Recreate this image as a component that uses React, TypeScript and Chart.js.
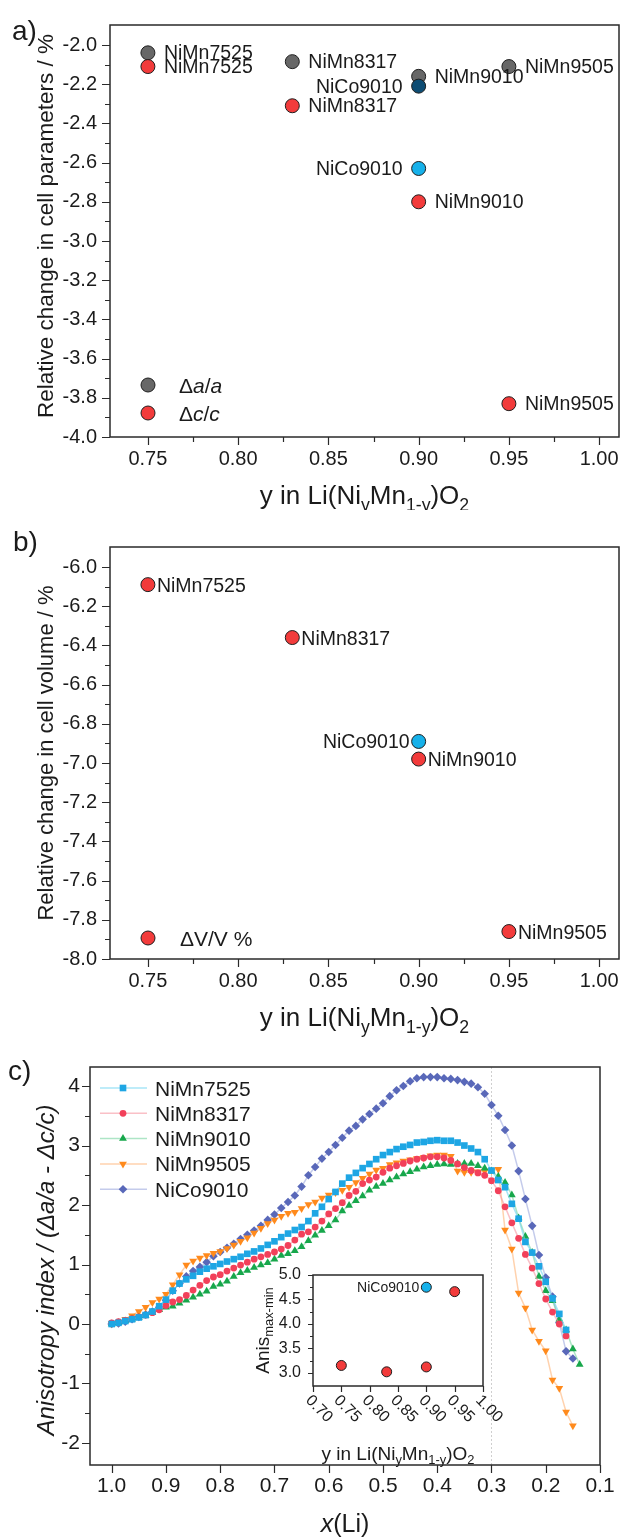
import React, { useEffect, useRef } from 'react';
import { Chart, registerables } from 'chart.js';

Chart.register(...registerables);

const FONT = "'Liberation Sans', Arial, Helvetica, sans-serif";
Chart.defaults.font.family = FONT;
const INK = '#1b1b1b';
const FRAME = '#2a2a2a';

// ---------------- panel a / b data ----------------
const COMPOSITION = [0.75, 0.83, 0.9, 0.95];
const NIMN_NAMES = ['NiMn7525', 'NiMn8317', 'NiMn9010', 'NiMn9505'];
const DELTA_A = [-2.04, -2.085, -2.16, -2.11];
const DELTA_C = [-2.11, -2.31, -2.8, -3.83];
const NICO_NAME = 'NiCo9010';
const NICO_COMPOSITION = 0.9;
const NICO_DELTA_A = -2.21;
const NICO_DELTA_C = -2.63;
const DELTA_V = [-6.09, -6.36, -6.98, -7.86];
const NICO_DELTA_V = -6.89;

// ---------------- inset data ----------------
const ANIS_RANGE = [3.15, 3.02, 3.12, 4.66];
const NICO_ANIS_RANGE = 4.75;

// ---------------- panel c data ----------------
const SERIES_NAMES = ['NiMn7525', 'NiMn8317', 'NiMn9010', 'NiMn9505', 'NiCo9010'];
const X_LI = [
  1.0, 0.9875, 0.975, 0.9625, 0.95, 0.9375, 0.925, 0.9125, 0.9, 0.8875,
  0.875, 0.8625, 0.85, 0.8375, 0.825, 0.8125, 0.8, 0.7875, 0.775, 0.7625,
  0.75, 0.7375, 0.725, 0.7125, 0.7, 0.6875, 0.675, 0.6625, 0.65, 0.6375,
  0.625, 0.6125, 0.6, 0.5875, 0.575, 0.5625, 0.55, 0.5375, 0.525, 0.5125,
  0.5, 0.4875, 0.475, 0.4625, 0.45, 0.4375, 0.425, 0.4125, 0.4, 0.3875,
  0.375, 0.3625, 0.35, 0.3375, 0.325, 0.3125, 0.3, 0.2875, 0.275, 0.2625,
  0.25, 0.2375, 0.225, 0.2125, 0.2, 0.1875, 0.175, 0.1625, 0.15, 0.1375,
];
const ANIS_NIMN7525 = [
  0.0, 0.02, 0.05, 0.08, 0.11, 0.15, 0.21, 0.3, 0.41, 0.56,
  0.68, 0.75, 0.81, 0.88, 0.93, 0.97, 1.01, 1.05, 1.09, 1.13,
  1.18, 1.22, 1.27, 1.33, 1.39, 1.46, 1.52, 1.58, 1.63, 1.73,
  1.86, 1.97, 2.1, 2.22, 2.36, 2.46, 2.54, 2.62, 2.69, 2.77,
  2.84, 2.89, 2.94, 2.98, 3.01, 3.05, 3.06, 3.08, 3.09, 3.08,
  3.08, 3.05, 3.0, 2.95, 2.89, 2.77, 2.58, 2.42, 2.3, 2.02,
  1.77, 1.38, 1.2, 0.97, 0.71, 0.43, 0.17, -0.1,
];
const ANIS_NIMN8317 = [
  0.02, 0.04, 0.06, 0.09, 0.12, 0.15, 0.19, 0.24, 0.31, 0.37,
  0.41, 0.48, 0.57, 0.65, 0.73, 0.79, 0.83, 0.89, 0.94, 0.99,
  1.04, 1.09, 1.13, 1.17, 1.21, 1.26, 1.32, 1.41, 1.51, 1.55,
  1.63, 1.73, 1.85, 1.94, 2.04, 2.16, 2.23, 2.36, 2.42, 2.47,
  2.55, 2.62, 2.66, 2.7, 2.74, 2.77, 2.79, 2.81, 2.81, 2.79,
  2.75, 2.69, 2.63, 2.58, 2.54, 2.5, 2.41, 2.24, 1.97, 1.7,
  1.44, 1.17, 0.94, 0.68, 0.42, 0.2, 0.0, -0.2,
];
const ANIS_NIMN9010 = [
  0.0, 0.02, 0.05, 0.08, 0.11, 0.14, 0.19, 0.24, 0.28, 0.3,
  0.35, 0.4, 0.45, 0.5, 0.55, 0.63, 0.67, 0.72, 0.8, 0.86,
  0.9, 0.95, 0.99, 1.03, 1.09, 1.15, 1.18, 1.23, 1.3, 1.4,
  1.49, 1.57, 1.65, 1.75, 1.9, 1.99, 2.07, 2.15, 2.25, 2.31,
  2.36, 2.42, 2.47, 2.52, 2.56, 2.6, 2.64, 2.66, 2.68, 2.69,
  2.68, 2.7, 2.7, 2.7, 2.66, 2.62, 2.57, 2.48, 2.38, 2.17,
  1.78, 1.47, 1.2, 0.8, 0.56, 0.39, 0.08, -0.1, -0.42, -0.68,
];
const ANIS_NIMN9505 = [
  0.01, 0.03, 0.08, 0.14, 0.21, 0.28, 0.36, 0.42, 0.5, 0.66,
  0.83, 0.99, 1.06, 1.11, 1.15, 1.19, 1.22, 1.27, 1.33, 1.39,
  1.45, 1.53, 1.61, 1.69, 1.75, 1.81, 1.86, 1.88, 1.94, 2.01,
  2.05, 2.12, 2.17, 2.21, 2.25, 2.3, 2.38, 2.45, 2.52, 2.59,
  2.62, 2.68, 2.71, 2.74, 2.76, 2.78, 2.8, 2.83, 2.84, 2.84,
  2.82, 2.57, 2.55, 2.55, 2.56, 2.57, 2.58, 2.6, 1.58, 1.26,
  0.52, 0.27, -0.1, -0.29, -0.45, -0.94, -1.08, -1.48, -1.71,
];
const ANIS_NICO9010 = [
  0.0, 0.01, 0.04, 0.08, 0.12, 0.16, 0.21, 0.28, 0.4, 0.56,
  0.68, 0.8, 0.89, 0.96, 1.04, 1.14, 1.21, 1.28, 1.35, 1.43,
  1.5, 1.57, 1.65, 1.75, 1.84, 1.95, 2.05, 2.16, 2.31, 2.5,
  2.64, 2.78, 2.89, 3.01, 3.13, 3.25, 3.33, 3.44, 3.53, 3.62,
  3.71, 3.83, 3.93, 4.0, 4.08, 4.13, 4.15, 4.15, 4.15, 4.13,
  4.12, 4.1, 4.07, 4.04, 3.98, 3.87, 3.68, 3.5, 3.26, 3.0,
  2.57, 2.1, 1.65, 1.16, 0.78, 0.46, 0.02, -0.46, -0.58,
];
const ANIS_SERIES = [ANIS_NIMN7525, ANIS_NIMN8317, ANIS_NIMN9010, ANIS_NIMN9505, ANIS_NICO9010];
const REF_X_LI = 0.3;

// ---------------- ticks ----------------
const A_X_TICKS = [0.75, 0.8, 0.85, 0.9, 0.95, 1.0];
const A_X_MINOR = [0.775, 0.825, 0.875, 0.925, 0.975];
const A_Y_TICKS = [-4.0, -3.8, -3.6, -3.4, -3.2, -3.0, -2.8, -2.6, -2.4, -2.2, -2.0];
const A_Y_MINOR = [-3.9, -3.7, -3.5, -3.3, -3.1, -2.9, -2.7, -2.5, -2.3, -2.1];
const B_Y_TICKS = [-8.0, -7.8, -7.6, -7.4, -7.2, -7.0, -6.8, -6.6, -6.4, -6.2, -6.0];
const B_Y_MINOR = [-7.9, -7.7, -7.5, -7.3, -7.1, -6.9, -6.7, -6.5, -6.3, -6.1];
const C_X_TICKS = [1.0, 0.9, 0.8, 0.7, 0.6, 0.5, 0.4, 0.3, 0.2, 0.1];
const C_Y_TICKS = [-2, -1, 0, 1, 2, 3, 4];
const C_Y_MINOR = [-1.5, -0.5, 0.5, 1.5, 2.5, 3.5];
const IN_X_TICKS = [0.7, 0.75, 0.8, 0.85, 0.9, 0.95, 1.0];
const IN_Y_TICKS = [3.0, 3.5, 4.0, 4.5, 5.0];
const IN_Y_MINOR = [3.25, 3.75, 4.25, 4.75];

// ---------------- styles ----------------
const GRAY = '#676767';
const RED = '#f23b3b';
const NICO_A_COLOR = '#0d4c73';
const NICO_C_COLOR = '#16b1ea';
const EDGE = '#1e1e1e';
const C_STYLES = [
  { point: 'rect', rot: 0, r: 4.7, color: '#1ea6e4', line: 'rgba(110,212,240,0.6)' },
  { point: 'circle', rot: 0, r: 3.4, color: '#f2405a', line: 'rgba(246,150,162,0.6)' },
  { point: 'triangle', rot: 0, r: 4.5, color: '#17a74b', line: 'rgba(118,212,160,0.6)' },
  { point: 'triangle', rot: 180, r: 4.5, color: '#ff8a1c', line: 'rgba(255,186,130,0.65)' },
  { point: 'rectRot', rot: 0, r: 4.3, color: '#5968b9', line: 'rgba(165,175,225,0.65)' },
];

type Part = { t: string; sub?: boolean; it?: boolean };
const X_TITLE: Part[] = [
  { t: 'y in Li(Ni' }, { t: 'y', sub: true }, { t: 'Mn' }, { t: '1-y', sub: true }, { t: ')O' }, { t: '2', sub: true },
];

function drawRich(
  ctx: CanvasRenderingContext2D, parts: Part[], x: number, y: number, size: number,
  align: 'left' | 'center' | 'right' = 'center', angle = 0,
) {
  ctx.save();
  ctx.translate(x, y);
  if (angle) ctx.rotate(angle);
  const sub = size * 0.68;
  const fontOf = (p: Part) => `${p.it ? 'italic ' : ''}${p.sub ? sub : size}px ${FONT}`;
  const ws = parts.map((p) => { ctx.font = fontOf(p); return ctx.measureText(p.t).width; });
  const total = ws.reduce((a, b) => a + b, 0);
  let cx = align === 'center' ? -total / 2 : align === 'right' ? -total : 0;
  const base = size * 0.36;
  ctx.fillStyle = INK;
  ctx.textAlign = 'left';
  ctx.textBaseline = 'alphabetic';
  parts.forEach((p, i) => {
    ctx.font = fontOf(p);
    ctx.fillText(p.t, cx, p.sub ? base + size * 0.24 : base);
    cx += ws[i];
  });
  ctx.restore();
}

function drawMarker(
  ctx: CanvasRenderingContext2D, style: string, rot: number, x: number, y: number, r: number,
  fill: string, stroke?: string, lw = 0,
) {
  ctx.save();
  ctx.beginPath();
  if (style === 'circle') {
    ctx.arc(x, y, r, 0, Math.PI * 2);
  } else if (style === 'rect') {
    const s = r * Math.SQRT1_2;
    ctx.rect(x - s, y - s, 2 * s, 2 * s);
  } else if (style === 'rectRot') {
    ctx.moveTo(x, y - r); ctx.lineTo(x + r, y); ctx.lineTo(x, y + r); ctx.lineTo(x - r, y); ctx.closePath();
  } else if (style === 'triangle') {
    let a = (rot * Math.PI) / 180;
    ctx.moveTo(x + Math.sin(a) * r, y - Math.cos(a) * r);
    a += (2 * Math.PI) / 3;
    ctx.lineTo(x + Math.sin(a) * r, y - Math.cos(a) * r);
    a += (2 * Math.PI) / 3;
    ctx.lineTo(x + Math.sin(a) * r, y - Math.cos(a) * r);
    ctx.closePath();
  }
  ctx.fillStyle = fill;
  ctx.fill();
  if (lw > 0 && stroke) { ctx.lineWidth = lw; ctx.strokeStyle = stroke; ctx.stroke(); }
  ctx.restore();
}

interface Axis {
  min: number; max: number; reverse?: boolean; major: number[]; minor?: number[];
  fmt: (v: number) => string; labels?: boolean; pad: number;
}
interface Spec {
  w: number; h: number; left: number; top: number; right: number; bottom: number;
  font: number; majorLen: number; minorLen: number; xMajorLen?: number;
  x: Axis; y: Axis; datasets: any[];
  under?: (ctx: CanvasRenderingContext2D, ch: any) => void;
  over?: (ctx: CanvasRenderingContext2D, ch: any) => void;
}

function makeConfig(s: Spec): any {
  const axis = (a: Axis, horizontal: boolean) => ({
    type: 'linear',
    position: horizontal ? 'bottom' : 'left',
    min: a.min, max: a.max, reverse: !!a.reverse,
    grid: { display: false, drawTicks: false },
    border: { display: false },
    ticks: {
      display: a.labels !== false, padding: a.pad, color: INK,
      font: { family: FONT, size: s.font }, autoSkip: false, maxRotation: 0, minRotation: 0,
      callback: (v: any) => a.fmt(Number(v)),
    },
    afterBuildTicks: (sc: any) => { sc.ticks = a.major.map((v) => ({ value: v })); },
    afterFit: (sc: any) => {
      if (horizontal) { sc.height = s.h - s.bottom; sc.paddingLeft = 0; sc.paddingRight = 0; }
      else { sc.width = s.left; sc.paddingTop = 0; sc.paddingBottom = 0; }
    },
  });
  const frame = {
    id: 'frame',
    beforeDatasetsDraw(ch: any) {
      if (s.under) { ch.ctx.save(); s.under(ch.ctx, ch); ch.ctx.restore(); }
    },
    afterDatasetsDraw(ch: any) {
      const ctx: CanvasRenderingContext2D = ch.ctx;
      const ca = ch.chartArea;
      const xs = ch.scales.x;
      const ys = ch.scales.y;
      ctx.save();
      ctx.strokeStyle = FRAME;
      ctx.lineWidth = 1.5;
      ctx.strokeRect(ca.left, ca.top, ca.right - ca.left, ca.bottom - ca.top);
      ctx.lineWidth = 1.2;
      ctx.beginPath();
      const tx = (vals: number[], len: number) => vals.forEach((v) => {
        const p = Math.round(xs.getPixelForValue(v)) + 0.5;
        ctx.moveTo(p, ca.bottom); ctx.lineTo(p, ca.bottom + len);
      });
      const ty = (vals: number[], len: number) => vals.forEach((v) => {
        const p = Math.round(ys.getPixelForValue(v)) + 0.5;
        ctx.moveTo(ca.left, p); ctx.lineTo(ca.left - len, p);
      });
      tx(s.x.major, s.xMajorLen ?? s.majorLen);
      tx(s.x.minor || [], s.minorLen);
      ty(s.y.major, s.majorLen);
      ty(s.y.minor || [], s.minorLen);
      ctx.stroke();
      ctx.restore();
      if (s.over) { ctx.save(); s.over(ctx, ch); ctx.restore(); }
    },
  };
  return {
    type: 'scatter',
    data: { datasets: s.datasets },
    options: {
      responsive: false,
      animation: false,
      devicePixelRatio: 1,
      events: [],
      layout: { padding: { left: 0, top: s.top, right: s.w - s.right, bottom: 0 } },
      plugins: { legend: { display: false }, tooltip: { enabled: false }, title: { display: false } },
      scales: { x: axis(s.x, true), y: axis(s.y, false) },
    },
    plugins: [frame],
  };
}

function bigDot(data: { x: number; y: number }[], color: string, order: number, r = 7) {
  return {
    data, showLine: false, pointStyle: 'circle', pointRadius: r,
    pointBackgroundColor: color, pointBorderColor: EDGE, pointBorderWidth: 1, order,
  };
}

function labelAt(ctx: CanvasRenderingContext2D, ch: any, text: string, x: number, y: number, side: 'right' | 'left', off: number, dy = 1) {
  const px = ch.scales.x.getPixelForValue(x);
  const py = ch.scales.y.getPixelForValue(y) + dy;
  ctx.textBaseline = 'middle';
  ctx.textAlign = side === 'right' ? 'left' : 'right';
  ctx.fillText(text, side === 'right' ? px + off : px - off, py);
}

function specA(): Spec {
  return {
    w: 627, h: 510, left: 110, top: 25, right: 621, bottom: 437,
    font: 20, majorLen: 8, minorLen: 5,
    x: { min: 0.729, max: 1.011, major: A_X_TICKS, minor: A_X_MINOR, fmt: (v) => v.toFixed(2), pad: 10 },
    y: { min: -4.0, max: -1.898, major: A_Y_TICKS, minor: A_Y_MINOR, fmt: (v) => v.toFixed(1), pad: 13 },
    datasets: [
      bigDot(COMPOSITION.map((x, i) => ({ x, y: DELTA_A[i] })), GRAY, 3),
      bigDot(COMPOSITION.map((x, i) => ({ x, y: DELTA_C[i] })), RED, 2),
      bigDot([{ x: NICO_COMPOSITION, y: NICO_DELTA_A }], NICO_A_COLOR, 1),
      bigDot([{ x: NICO_COMPOSITION, y: NICO_DELTA_C }], NICO_C_COLOR, 1),
    ],
    over: (ctx, ch) => {
      const ca = ch.chartArea;
      ctx.fillStyle = INK;
      ctx.font = `19.5px ${FONT}`;
      COMPOSITION.forEach((c, i) => {
        labelAt(ctx, ch, NIMN_NAMES[i], c, DELTA_A[i], 'right', 16);
        labelAt(ctx, ch, NIMN_NAMES[i], c, DELTA_C[i], 'right', 16);
      });
      labelAt(ctx, ch, NICO_NAME, NICO_COMPOSITION, NICO_DELTA_A, 'left', 16);
      labelAt(ctx, ch, NICO_NAME, NICO_COMPOSITION, NICO_DELTA_C, 'left', 16);
      drawMarker(ctx, 'circle', 0, ca.left + 38, ca.bottom - 52, 7, GRAY, EDGE, 1);
      drawMarker(ctx, 'circle', 0, ca.left + 38, ca.bottom - 24, 7, RED, EDGE, 1);
      drawRich(ctx, [{ t: 'Δ' }, { t: 'a', it: true }, { t: '/' }, { t: 'a', it: true }], ca.left + 69, ca.bottom - 52, 21, 'left');
      drawRich(ctx, [{ t: 'Δ' }, { t: 'c', it: true }, { t: '/' }, { t: 'c', it: true }], ca.left + 69, ca.bottom - 24, 21, 'left');
      drawRich(ctx, [{ t: 'Relative change in cell parameters / %' }], 45, 226, 22.5, 'center', -Math.PI / 2);
      drawRich(ctx, X_TITLE, (ca.left + ca.right) / 2, 495, 26, 'center');
      drawRich(ctx, [{ t: 'a)' }], 12, 30, 28, 'left');
    },
  };
}

function specB(): Spec {
  return {
    w: 627, h: 530, left: 110, top: 37, right: 621, bottom: 449,
    font: 20, majorLen: 8, minorLen: 5,
    x: { min: 0.729, max: 1.011, major: A_X_TICKS, minor: A_X_MINOR, fmt: (v) => v.toFixed(2), pad: 10 },
    y: { min: -8.0, max: -5.898, major: B_Y_TICKS, minor: B_Y_MINOR, fmt: (v) => v.toFixed(1), pad: 13 },
    datasets: [
      bigDot(COMPOSITION.map((x, i) => ({ x, y: DELTA_V[i] })), RED, 1),
      bigDot([{ x: NICO_COMPOSITION, y: NICO_DELTA_V }], NICO_C_COLOR, 2),
    ],
    over: (ctx, ch) => {
      const ca = ch.chartArea;
      ctx.fillStyle = INK;
      ctx.font = `19.5px ${FONT}`;
      COMPOSITION.forEach((c, i) => labelAt(ctx, ch, NIMN_NAMES[i], c, DELTA_V[i], 'right', 9, 2));
      labelAt(ctx, ch, NICO_NAME, NICO_COMPOSITION, NICO_DELTA_V, 'left', 9, 1);
      drawMarker(ctx, 'circle', 0, ca.left + 38, ca.bottom - 21, 7, RED, EDGE, 1);
      drawRich(ctx, [{ t: 'ΔV/V %' }], ca.left + 70, ca.bottom - 21, 21, 'left');
      drawRich(ctx, [{ t: 'Relative change in cell volume / %' }], 45, (ca.top + ca.bottom) / 2, 22, 'center', -Math.PI / 2);
      drawRich(ctx, X_TITLE, (ca.left + ca.right) / 2, 507, 26, 'center');
      drawRich(ctx, [{ t: 'b)' }], 13, 31, 28, 'left');
    },
  };
}

function specC(): Spec {
  return {
    w: 627, h: 497, left: 90, top: 27, right: 600, bottom: 425,
    font: 21, majorLen: 8, minorLen: 5,
    x: { min: 0.1, max: 1.04, reverse: true, major: C_X_TICKS, fmt: (v) => v.toFixed(1), pad: 9 },
    y: { min: -2.37, max: 4.32, major: C_Y_TICKS, minor: C_Y_MINOR, fmt: (v) => String(Math.round(v)), pad: 10 },
    datasets: ANIS_SERIES.map((ys, k) => {
      const st = C_STYLES[k];
      return {
        label: SERIES_NAMES[k],
        data: ys.map((y, i) => ({ x: X_LI[i], y })),
        showLine: true, borderColor: st.line, borderWidth: 1.5, tension: 0,
        pointStyle: st.point, pointRotation: st.rot, pointRadius: st.r,
        pointBackgroundColor: st.color, pointBorderColor: st.color, pointBorderWidth: 0,
      };
    }),
    under: (ctx, ch) => {
      const ca = ch.chartArea;
      const px = Math.round(ch.scales.x.getPixelForValue(REF_X_LI)) + 0.5;
      ctx.strokeStyle = '#cfcfcf';
      ctx.lineWidth = 1;
      ctx.setLineDash([2, 2]);
      ctx.beginPath();
      ctx.moveTo(px, ca.top); ctx.lineTo(px, ca.bottom);
      ctx.stroke();
      ctx.setLineDash([]);
    },
    over: (ctx, ch) => {
      const ca = ch.chartArea;
      SERIES_NAMES.forEach((name, k) => {
        const st = C_STYLES[k];
        const y = ca.top + 21 + k * 25.3;
        ctx.strokeStyle = st.line;
        ctx.lineWidth = 1.5;
        ctx.beginPath();
        ctx.moveTo(ca.left + 10, y); ctx.lineTo(ca.left + 57, y);
        ctx.stroke();
        drawMarker(ctx, st.point, st.rot, ca.left + 33, y, st.r, st.color);
        drawRich(ctx, [{ t: name }], ca.left + 65, y, 21, 'left');
      });
      drawRich(ctx, [{ t: 'Anisotropy index / (Δa/a - Δc/c)', it: true }], 45, 230, 24, 'center', -Math.PI / 2);
      drawRich(ctx, [{ t: 'x', it: true }, { t: '(Li)' }], (ca.left + ca.right) / 2, 483, 25, 'center');
      drawRich(ctx, [{ t: 'c)' }], 8, 30, 28, 'left');
    },
  };
}

function specInset(): Spec {
  return {
    w: 290, h: 215, left: 83, top: 15, right: 253, bottom: 126,
    font: 16, majorLen: 5, minorLen: 3, xMajorLen: 6,
    x: { min: 0.7, max: 1.0, major: IN_X_TICKS, fmt: (v) => v.toFixed(2), labels: false, pad: 0 },
    y: { min: 2.73, max: 5.0, major: IN_Y_TICKS, minor: IN_Y_MINOR, fmt: (v) => v.toFixed(1), pad: 12 },
    datasets: [
      bigDot(COMPOSITION.map((x, i) => ({ x, y: ANIS_RANGE[i] })), RED, 1, 5),
      bigDot([{ x: NICO_COMPOSITION, y: NICO_ANIS_RANGE }], NICO_C_COLOR, 2, 5),
    ],
    over: (ctx, ch) => {
      const ca = ch.chartArea;
      ctx.fillStyle = INK;
      ctx.font = `14px ${FONT}`;
      labelAt(ctx, ch, NICO_NAME, NICO_COMPOSITION, NICO_ANIS_RANGE, 'left', 7, 1);
      ctx.font = `16px ${FONT}`;
      IN_X_TICKS.forEach((v) => {
        const px = ch.scales.x.getPixelForValue(v);
        ctx.save();
        ctx.translate(px - 5, ca.bottom + 12);
        ctx.rotate(Math.PI / 4);
        ctx.textAlign = 'left';
        ctx.textBaseline = 'middle';
        ctx.fillText(v.toFixed(2), 0, 0);
        ctx.restore();
      });
      drawRich(ctx, [{ t: 'Anis' }, { t: 'max-min', sub: true }], 32, (ca.top + ca.bottom) / 2, 19, 'center', -Math.PI / 2);
      drawRich(ctx, X_TITLE, (ca.left + ca.right) / 2, 193, 19, 'center');
    },
  };
}

export default function App() {
  const aRef = useRef<HTMLCanvasElement>(null);
  const bRef = useRef<HTMLCanvasElement>(null);
  const cRef = useRef<HTMLCanvasElement>(null);
  const iRef = useRef<HTMLCanvasElement>(null);

  useEffect(() => {
    const charts = [
      new Chart(aRef.current as HTMLCanvasElement, makeConfig(specA())),
      new Chart(bRef.current as HTMLCanvasElement, makeConfig(specB())),
      new Chart(cRef.current as HTMLCanvasElement, makeConfig(specC())),
      new Chart(iRef.current as HTMLCanvasElement, makeConfig(specInset())),
    ];
    return () => charts.forEach((c) => c.destroy());
  }, []);

  const abs = (left: number, top: number, w: number, h: number): React.CSSProperties => ({
    position: 'absolute', left, top, width: w, height: h, display: 'block',
  });

  return (
    <div style={{ position: 'absolute', left: 0, top: 0, width: 627, height: 1537, background: '#ffffff' }}>
      <canvas ref={aRef} width={627} height={510} style={abs(0, 0, 627, 510)} />
      <canvas ref={bRef} width={627} height={530} style={abs(0, 510, 627, 530)} />
      <canvas ref={cRef} width={627} height={497} style={abs(0, 1040, 627, 497)} />
      <canvas ref={iRef} width={290} height={215} style={abs(230, 1260, 290, 215)} />
    </div>
  );
}
